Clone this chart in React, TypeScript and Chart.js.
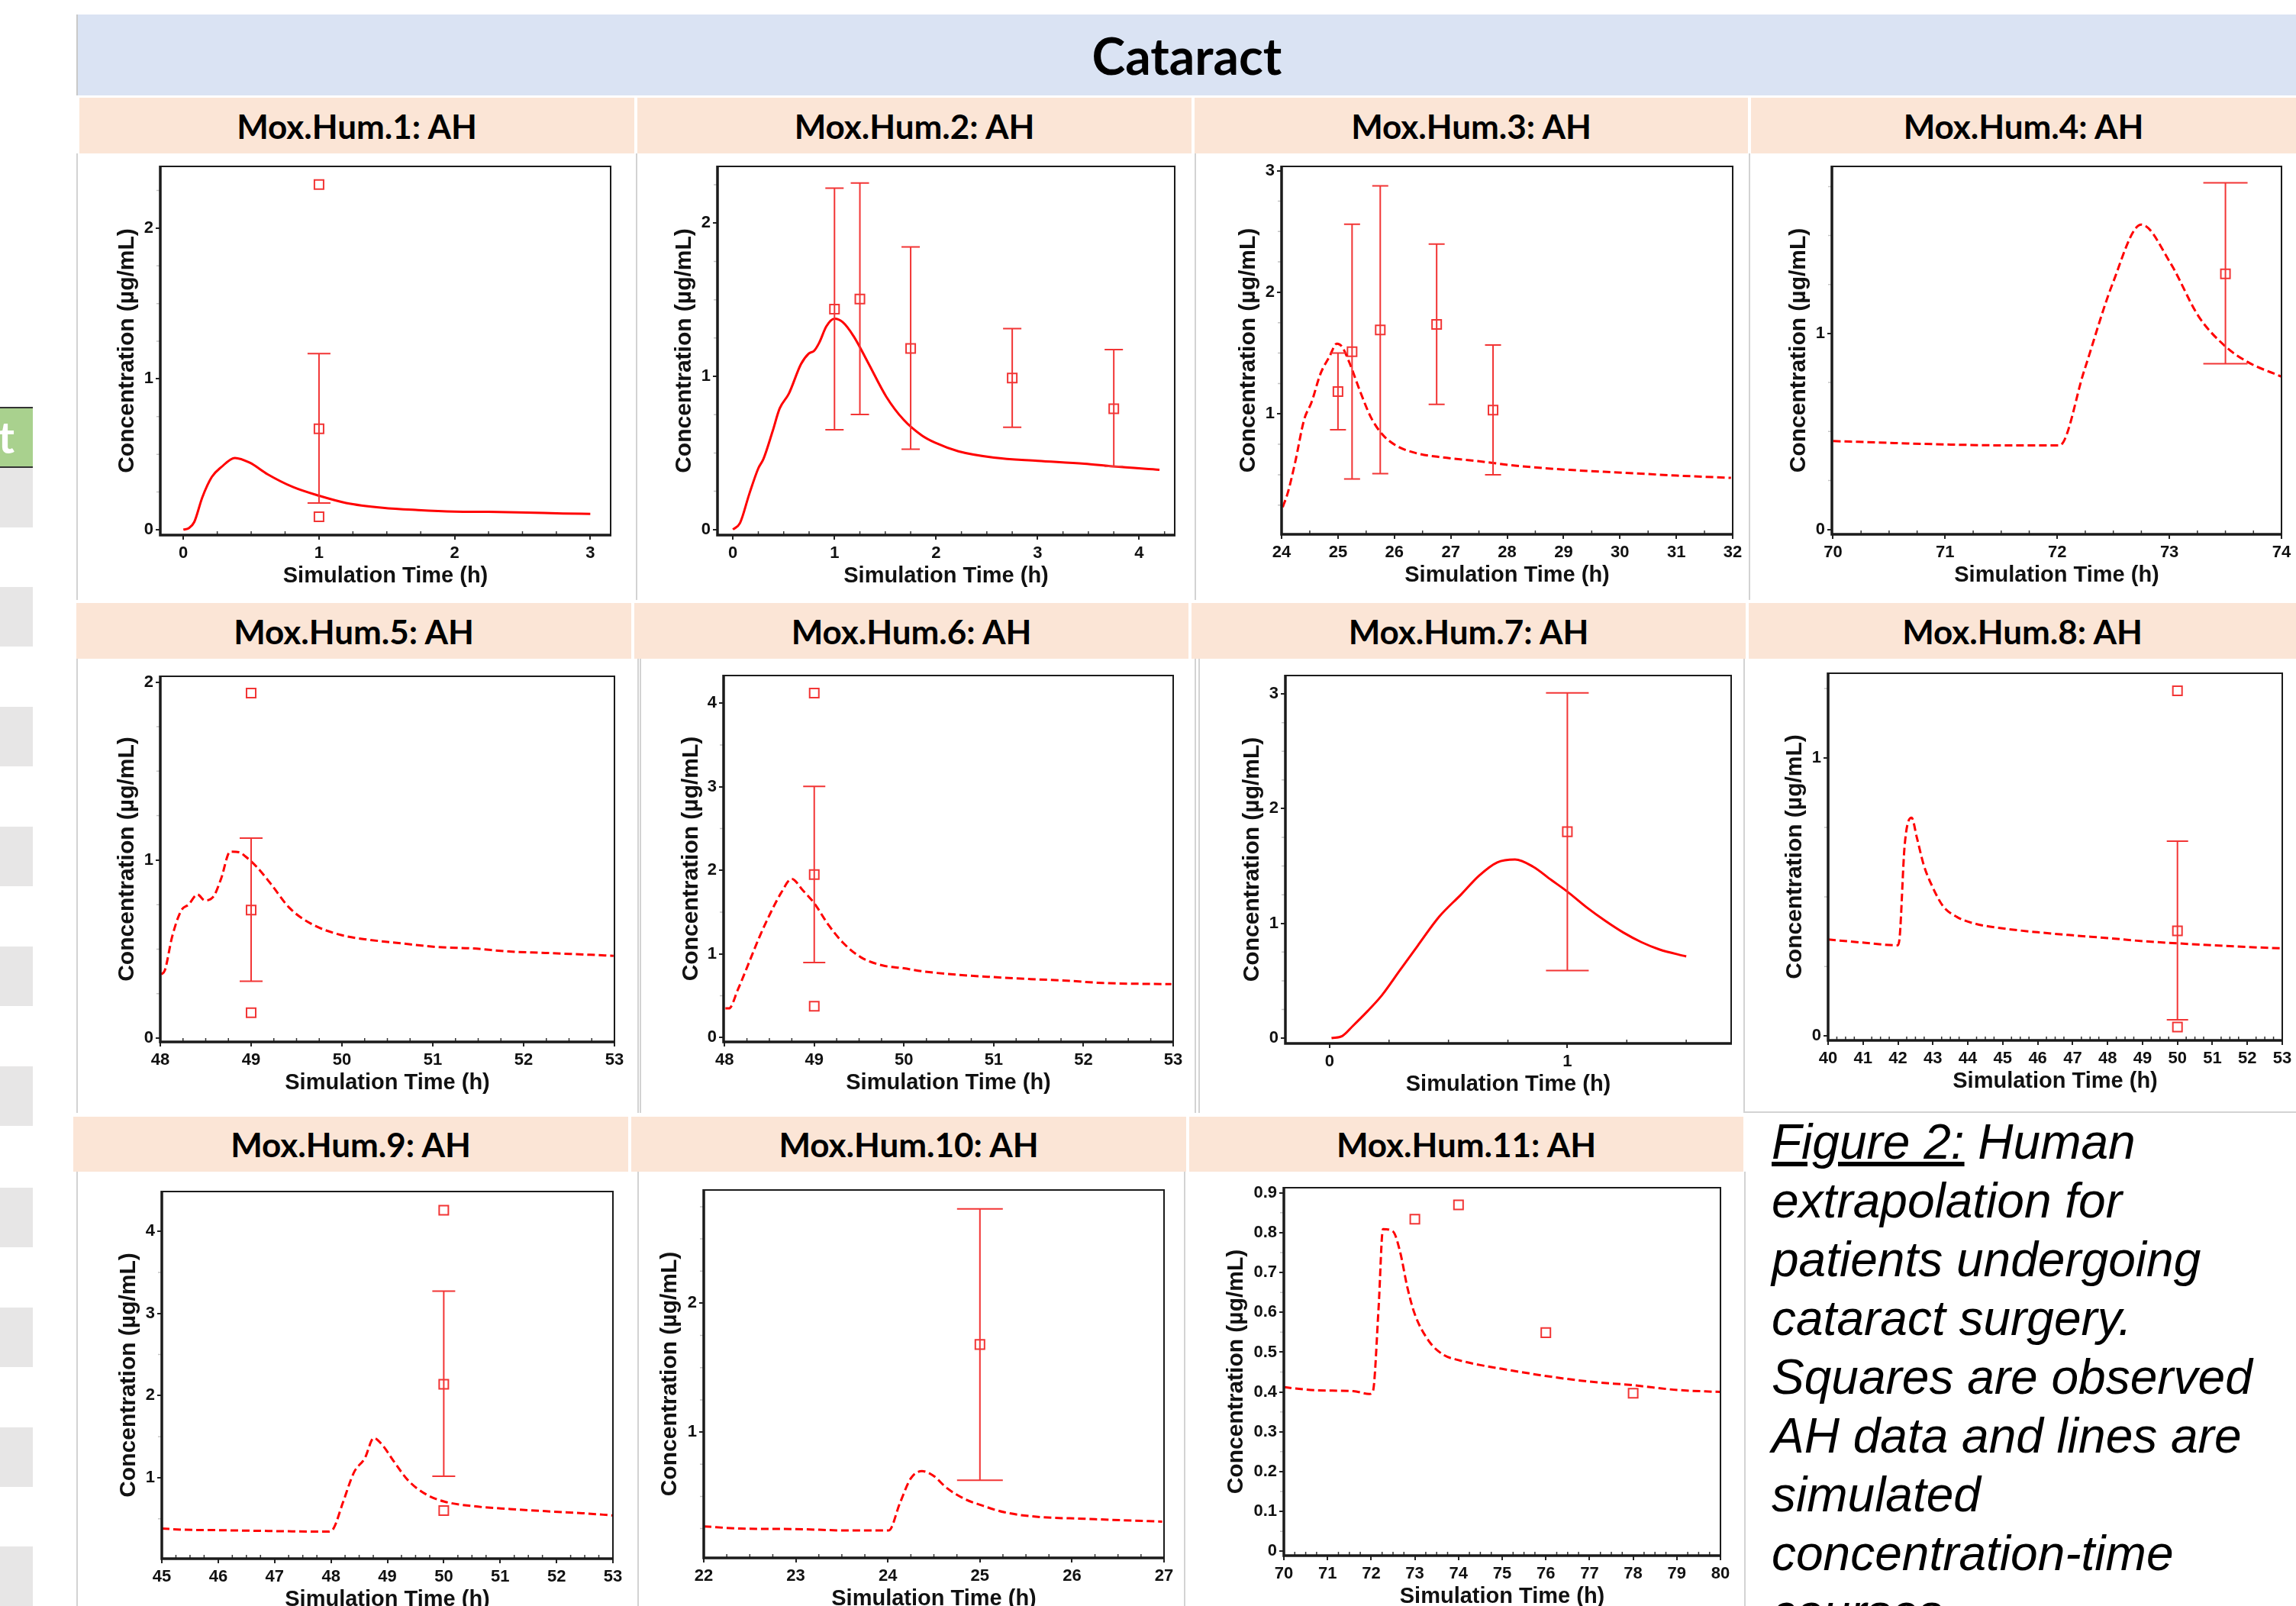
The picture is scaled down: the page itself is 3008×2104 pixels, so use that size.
import React, { useEffect, useRef } from "react";
import { Chart, registerables } from "chart.js";

Chart.register(...registerables);

// ---------------- data ----------------
// Mox.Hum.1
const simT1 = [0, 0.04, 0.08, 0.14, 0.21, 0.28, 0.38, 0.49, 0.62, 0.81, 1.0, 1.2, 1.47, 1.73, 2.0, 2.25, 2.53, 2.8, 3.0];
const simC1 = [0, 0.01, 0.05, 0.215, 0.35, 0.415, 0.476, 0.444, 0.368, 0.282, 0.225, 0.177, 0.145, 0.13, 0.12, 0.118, 0.114, 0.107, 0.105];
const obsT1 = [1, 1, 1];
const obsC1 = [2.29, 0.669, 0.086];
const barT1 = [1];
const barLo1 = [0.177];
const barHi1 = [1.168];
const xTicks1 = [0, 1, 2, 3];
const yTicks1 = [0, 1, 2];
const xRange1 = [-0.17, 3.15];
const yRange1 = [-0.036, 2.41];

// Mox.Hum.2
const simT2 = [0, 0.07, 0.16, 0.25, 0.3, 0.39, 0.46, 0.55, 0.67, 0.745, 0.8, 0.85, 0.92, 1.0, 1.08, 1.19, 1.33, 1.51, 1.68, 1.86, 1.99, 2.22, 2.57, 3.0, 3.46, 3.74, 4.2];
const simC2 = [0, 0.043, 0.23, 0.4, 0.46, 0.64, 0.79, 0.886, 1.08, 1.148, 1.167, 1.22, 1.326, 1.376, 1.354, 1.26, 1.09, 0.867, 0.717, 0.614, 0.567, 0.511, 0.47, 0.449, 0.43, 0.412, 0.39];
const obsT2 = [1, 1.25, 1.75, 2.75, 3.75];
const obsC2 = [1.438, 1.504, 1.182, 0.989, 0.788];
const barT2 = [1, 1.25, 1.75, 2.75, 3.75];
const barLo2 = [0.652, 0.751, 0.524, 0.667, 0.412];
const barHi2 = [2.228, 2.262, 1.845, 1.311, 1.174];
const xTicks2 = [0, 1, 2, 3, 4];
const yTicks2 = [0, 1, 2];
const xRange2 = [-0.152, 4.35];
const yRange2 = [-0.036, 2.37];

// Mox.Hum.3
const simT3 = [24.02, 24.11, 24.24, 24.4, 24.53, 24.69, 24.85, 24.98, 25.07, 25.2, 25.39, 25.58, 25.78, 26.03, 26.35, 26.86, 27.5, 28.14, 29.1, 30.05, 31.01, 31.97];
const simC3 = [0.233, 0.351, 0.6, 0.953, 1.094, 1.33, 1.472, 1.578, 1.554, 1.425, 1.189, 0.976, 0.835, 0.74, 0.682, 0.642, 0.611, 0.575, 0.54, 0.517, 0.493, 0.474];
const obsT3 = [25, 25.25, 25.75, 26.75, 27.75];
const obsC3 = [1.184, 1.512, 1.691, 1.736, 1.031];
const barT3 = [25, 25.25, 25.75, 26.75, 27.75];
const barLo3 = [0.87, 0.465, 0.509, 1.078, 0.5];
const barHi3 = [1.5, 2.559, 2.875, 2.396, 1.566];
const xTicks3 = [24, 25, 26, 27, 28, 29, 30, 31, 32];
const yTicks3 = [1, 2, 3];
const xRange3 = [24, 32];
const yRange3 = [0.01, 3.035];

// Mox.Hum.4
const simT4 = [70, 70.55, 71.05, 71.55, 72.02, 72.24, 72.49, 72.75, 73.01, 73.26, 73.5, 73.7, 74];
const simC4 = [0.451, 0.441, 0.433, 0.429, 0.429, 0.81, 1.249, 1.556, 1.359, 1.088, 0.934, 0.854, 0.78];
const obsT4 = [73.5];
const obsC4 = [1.305];
const barT4 = [73.5];
const barLo4 = [0.846];
const barHi4 = [1.769];
const xTicks4 = [70, 71, 72, 73, 74];
const yTicks4 = [0, 1];
const xRange4 = [69.99, 74];
const yRange4 = [-0.025, 1.853];

// Mox.Hum.5
const simT5 = [48.01, 48.05, 48.13, 48.23, 48.31, 48.41, 48.49, 48.59, 48.67, 48.77, 48.87, 48.94, 49.06, 49.22, 49.42, 49.66, 50.0, 50.25, 50.65, 51.05, 51.44, 51.84, 52.24, 52.99];
const simC5 = [0.359, 0.381, 0.569, 0.717, 0.75, 0.807, 0.774, 0.799, 0.897, 1.048, 1.045, 1.02, 0.963, 0.865, 0.733, 0.643, 0.578, 0.556, 0.533, 0.512, 0.504, 0.487, 0.479, 0.463];
const obsT5 = [49, 49, 49];
const obsC5 = [1.939, 0.72, 0.143];
const barT5 = [49];
const barLo5 = [0.32];
const barHi5 = [1.124];
const xTicks5 = [48, 49, 50, 51, 52, 53];
const yTicks5 = [0, 1, 2];
const xRange5 = [48, 53];
const yRange5 = [-0.021, 2.033];

// Mox.Hum.6
const simT6 = [48.01, 48.05, 48.15, 48.27, 48.39, 48.51, 48.63, 48.75, 48.87, 49.0, 49.16, 49.32, 49.52, 49.76, 50.0, 50.2, 50.6, 51.0, 51.41, 51.81, 52.21, 52.98];
const simC6 = [0.349, 0.349, 0.576, 0.89, 1.205, 1.484, 1.729, 1.897, 1.764, 1.607, 1.345, 1.135, 0.96, 0.863, 0.828, 0.793, 0.751, 0.723, 0.699, 0.681, 0.653, 0.639];
const obsT6 = [49, 49, 49];
const obsC6 = [4.121, 1.949, 0.374];
const barT6 = [49];
const barLo6 = [0.898];
const barHi6 = [3.004];
const xTicks6 = [48, 49, 50, 51, 52, 53];
const yTicks6 = [0, 1, 2, 3, 4];
const xRange6 = [47.99, 53];
const yRange6 = [-0.052, 4.33];

// Mox.Hum.7
const simT7 = [0.008, 0.053, 0.098, 0.159, 0.22, 0.295, 0.371, 0.462, 0.553, 0.629, 0.705, 0.78, 0.856, 0.932, 1.0, 1.083, 1.159, 1.235, 1.311, 1.386, 1.5];
const simC7 = [0, 0.018, 0.107, 0.234, 0.374, 0.59, 0.807, 1.061, 1.252, 1.417, 1.532, 1.557, 1.494, 1.379, 1.277, 1.137, 1.023, 0.921, 0.837, 0.774, 0.712];
const obsT7 = [1];
const obsC7 = [1.799];
const barT7 = [1];
const barLo7 = [0.59];
const barHi7 = [3.008];
const xTicks7 = [0, 1];
const yTicks7 = [0, 1, 2, 3];
const xRange7 = [-0.186, 1.689];
const yRange7 = [-0.046, 3.16];

// Mox.Hum.8
const simT8 = [40, 40.98, 41.99, 42.05, 42.19, 42.39, 42.54, 42.74, 42.99, 43.29, 43.69, 44.2, 45.0, 46.0, 47.0, 48.01, 49.02, 50.02, 51.02, 52.03, 52.98];
const simC8 = [0.347, 0.336, 0.326, 0.357, 0.683, 0.785, 0.714, 0.614, 0.536, 0.467, 0.428, 0.404, 0.387, 0.373, 0.362, 0.352, 0.341, 0.333, 0.326, 0.32, 0.315];
const obsT8 = [50, 50, 50];
const obsC8 = [1.242, 0.378, 0.032];
const barT8 = [50];
const barLo8 = [0.058];
const barHi8 = [0.701];
const xTicks8 = [40, 41, 42, 43, 44, 45, 46, 47, 48, 49, 50, 51, 52, 53];
const yTicks8 = [0, 1];
const xRange8 = [40, 53];
const yRange8 = [-0.016, 1.305];

// Mox.Hum.9
const simT9 = [45, 45.39, 46.03, 46.67, 47.31, 47.96, 48.05, 48.21, 48.41, 48.6, 48.76, 48.92, 49.11, 49.37, 49.69, 50.0, 50.53, 51.17, 51.81, 52.46, 53.0];
const simC9 = [0.381, 0.367, 0.361, 0.354, 0.347, 0.344, 0.388, 0.694, 1.068, 1.238, 1.483, 1.391, 1.204, 0.966, 0.796, 0.711, 0.653, 0.619, 0.592, 0.568, 0.541];
const obsT9 = [50, 50, 50];
const obsC9 = [4.259, 2.139, 0.599];
const barT9 = [50];
const barLo9 = [1.017];
const barHi9 = [3.272];
const xTicks9 = [45, 46, 47, 48, 49, 50, 51, 52, 53];
const yTicks9 = [1, 2, 3, 4];
const xRange9 = [45, 53];
const yRange9 = [0.014, 4.486];

// Mox.Hum.10
const simT10 = [22, 22.4, 22.99, 23.58, 24.01, 24.13, 24.25, 24.37, 24.49, 24.64, 24.84, 25.0, 25.27, 25.63, 26.14, 26.53, 26.98];
const simC10 = [0.267, 0.25, 0.246, 0.235, 0.235, 0.446, 0.641, 0.696, 0.663, 0.565, 0.478, 0.435, 0.376, 0.341, 0.326, 0.315, 0.304];
const obsT10 = [25];
const obsC10 = [1.68];
const barT10 = [25];
const barLo10 = [0.626];
const barHi10 = [2.733];
const xTicks10 = [22, 23, 24, 25, 26, 27];
const yTicks10 = [1, 2];
const xRange10 = [22, 27];
const yRange10 = [0.022, 2.88];

// Mox.Hum.11
const simT11 = [70, 70.76, 71.59, 71.96, 72.04, 72.17, 72.27, 72.5, 72.66, 72.83, 72.99, 73.32, 73.66, 74.0, 74.48, 75.0, 76.01, 77.0, 78.0, 79.01, 80.0];
const simC11 = [0.412, 0.404, 0.402, 0.395, 0.402, 0.612, 0.809, 0.803, 0.753, 0.662, 0.598, 0.528, 0.493, 0.48, 0.468, 0.458, 0.44, 0.426, 0.417, 0.405, 0.4];
const obsT11 = [73, 74, 76, 78];
const obsC11 = [0.834, 0.87, 0.549, 0.397];
const barT11: number[] = [];
const barLo11: number[] = [];
const barHi11: number[] = [];
const xTicks11 = [70, 71, 72, 73, 74, 75, 76, 77, 78, 79, 80];
const yTicks11 = [0, 0.1, 0.2, 0.3, 0.4, 0.5, 0.6, 0.7, 0.8, 0.9];
const xRange11 = [70, 80];
const yRange11 = [-0.011, 0.913];

const panelTitles = [
  "Mox.Hum.1: AH", "Mox.Hum.2: AH", "Mox.Hum.3: AH", "Mox.Hum.4: AH",
  "Mox.Hum.5: AH", "Mox.Hum.6: AH", "Mox.Hum.7: AH", "Mox.Hum.8: AH",
  "Mox.Hum.9: AH", "Mox.Hum.10: AH", "Mox.Hum.11: AH",
];

const captionLines = [
  "extrapolation for",
  "patients undergoing",
  "cataract surgery.",
  "Squares are observed",
  "AH data and lines are",
  "simulated",
  "concentration-time",
  "courses.",
];

// ---------------- styles / layout ----------------
const LINE_RED = "#ff0000";
const OBS_RED = "#f23535";
const AX_FONT = "'Liberation Sans', Arial, Helvetica, sans-serif";
const HDR_FONT = "Lato, 'Open Sans', 'Liberation Sans', sans-serif";
const AW = 90; // y-axis box width
const AH = 80; // x-axis box height
const PT = 20;
const PR = 30;

type PanelCfg = {
  title: string;
  simT: number[]; simC: number[];
  obsT: number[]; obsC: number[];
  barT: number[]; barLo: number[]; barHi: number[];
  xTicks: number[]; yTicks: number[];
  xRange: number[]; yRange: number[];
  dashed: boolean;
  frame: number[];
  hdr: number[];
  cap: number;
  yTitleOff: number;
  xMinor: number;
  yMinor: number;
};

const panels: PanelCfg[] = [
  { title: panelTitles[0], simT: simT1, simC: simC1, obsT: obsT1, obsC: obsC1, barT: barT1, barLo: barLo1, barHi: barHi1, xTicks: xTicks1, yTicks: yTicks1, xRange: xRange1, yRange: yRange1, dashed: false, frame: [210, 218, 800, 701], hdr: [104, 831, 128, 201], cap: 15, yTitleOff: 43, xMinor: 0.25, yMinor: 0.25 },
  { title: panelTitles[1], simT: simT2, simC: simC2, obsT: obsT2, obsC: obsC2, barT: barT2, barLo: barLo2, barHi: barHi2, xTicks: xTicks2, yTicks: yTicks2, xRange: xRange2, yRange: yRange2, dashed: false, frame: [940, 218, 1539, 701], hdr: [835, 1561, 128, 201], cap: 12, yTitleOff: 43, xMinor: 0.25, yMinor: 0.25 },
  { title: panelTitles[2], simT: simT3, simC: simC3, obsT: obsT3, obsC: obsC3, barT: barT3, barLo: barLo3, barHi: barHi3, xTicks: xTicks3, yTicks: yTicks3, xRange: xRange3, yRange: yRange3, dashed: true, frame: [1679, 218, 2270, 700], hdr: [1565, 2290, 128, 201], cap: 10.5, yTitleOff: 43, xMinor: 0.5, yMinor: 0.25 },
  { title: panelTitles[3], simT: simT4, simC: simC4, obsT: obsT4, obsC: obsC4, barT: barT4, barLo: barLo4, barHi: barHi4, xTicks: xTicks4, yTicks: yTicks4, xRange: xRange4, yRange: yRange4, dashed: true, frame: [2400, 218, 2989, 700], hdr: [2294, 3008, 128, 201], cap: 29, yTitleOff: 43, xMinor: 0.25, yMinor: 0.25 },
  { title: panelTitles[4], simT: simT5, simC: simC5, obsT: obsT5, obsC: obsC5, barT: barT5, barLo: barLo5, barHi: barHi5, xTicks: xTicks5, yTicks: yTicks5, xRange: xRange5, yRange: yRange5, dashed: true, frame: [210, 886, 805, 1365], hdr: [100, 827, 790, 863], cap: 15, yTitleOff: 43, xMinor: 0.25, yMinor: 0.25 },
  { title: panelTitles[5], simT: simT6, simC: simC6, obsT: obsT6, obsC: obsC6, barT: barT6, barLo: barLo6, barHi: barHi6, xTicks: xTicks6, yTicks: yTicks6, xRange: xRange6, yRange: yRange6, dashed: true, frame: [948, 885, 1537, 1365], hdr: [831, 1557, 790, 863], cap: 14.5, yTitleOff: 42, xMinor: 0.25, yMinor: 0.5 },
  { title: panelTitles[6], simT: simT7, simC: simC7, obsT: obsT7, obsC: obsC7, barT: barT7, barLo: barLo7, barHi: barHi7, xTicks: xTicks7, yTicks: yTicks7, xRange: xRange7, yRange: yRange7, dashed: false, frame: [1684, 885, 2268, 1367], hdr: [1561, 2287, 790, 863], cap: 28, yTitleOff: 43, xMinor: 0.25, yMinor: 0.25 },
  { title: panelTitles[7], simT: simT8, simC: simC8, obsT: obsT8, obsC: obsC8, barT: barT8, barLo: barLo8, barHi: barHi8, xTicks: xTicks8, yTicks: yTicks8, xRange: xRange8, yRange: yRange8, dashed: true, frame: [2395, 882, 2990, 1363], hdr: [2291, 3008, 790, 863], cap: 14, yTitleOff: 43, xMinor: 0.25, yMinor: 0.25 },
  { title: panelTitles[8], simT: simT9, simC: simC9, obsT: obsT9, obsC: obsC9, barT: barT9, barLo: barLo9, barHi: barHi9, xTicks: xTicks9, yTicks: yTicks9, xRange: xRange9, yRange: yRange9, dashed: true, frame: [212, 1561, 803, 2042], hdr: [96, 823, 1463, 1535], cap: 15, yTitleOff: 43, xMinor: 0.25, yMinor: 0.5 },
  { title: panelTitles[9], simT: simT10, simC: simC10, obsT: obsT10, obsC: obsC10, barT: barT10, barLo: barLo10, barHi: barHi10, xTicks: xTicks10, yTicks: yTicks10, xRange: xRange10, yRange: yRange10, dashed: true, frame: [922, 1559, 1525, 2041], hdr: [827, 1554, 1463, 1535], cap: 30, yTitleOff: 44, xMinor: 0.25, yMinor: 0.25 },
  { title: panelTitles[10], simT: simT11, simC: simC11, obsT: obsT11, obsC: obsC11, barT: barT11, barLo: barLo11, barHi: barHi11, xTicks: xTicks11, yTicks: yTicks11, xRange: xRange11, yRange: yRange11, dashed: true, frame: [1682, 1556, 2254, 2038], hdr: [1558, 2284, 1463, 1535], cap: 0, yTitleOff: 62, xMinor: 0.25, yMinor: 0.05 },
];

const vLines = [
  [101, 201, 786], [834, 201, 786], [1566, 201, 786], [2292, 201, 786],
  [101, 863, 1458], [836, 863, 1458], [839, 863, 1458], [1566, 863, 1458], [1571, 863, 1458], [2285, 863, 1458],
  [101, 1535, 2104], [836, 1535, 2104], [1552, 1535, 2104], [2286, 1535, 2104],
];
const stripGrayTops = [613, 769, 926, 1083, 1240, 1397, 1556, 1713, 1870, 2026];

function makeDecor(p: PanelCfg) {
  return {
    id: "decor",
    afterDatasetsDraw(chart: any) {
      const { ctx, scales } = chart;
      const xs = scales.x;
      const ys = scales.y;
      ctx.save();
      ctx.strokeStyle = OBS_RED;
      ctx.lineWidth = 2;
      p.barT.forEach((t, i) => {
        const px = xs.getPixelForValue(t);
        const y1 = ys.getPixelForValue(p.barLo[i]);
        const y2 = ys.getPixelForValue(p.barHi[i]);
        ctx.beginPath();
        ctx.moveTo(px, y1);
        ctx.lineTo(px, y2);
        ctx.moveTo(px - p.cap, y1);
        ctx.lineTo(px + p.cap, y1);
        ctx.moveTo(px - p.cap, y2);
        ctx.lineTo(px + p.cap, y2);
        ctx.stroke();
      });
      ctx.restore();
    },
    afterDraw(chart: any) {
      const { ctx, chartArea: a, scales } = chart;
      const xs = scales.x;
      const ys = scales.y;
      ctx.save();
      ctx.strokeStyle = "#333";
      ctx.lineWidth = 1.5;
      const k0 = Math.ceil(p.xRange[0] / p.xMinor - 1e-6);
      const k1 = Math.floor(p.xRange[1] / p.xMinor + 1e-6);
      ctx.beginPath();
      for (let k = k0; k <= k1; k++) {
        const v = k * p.xMinor;
        if (p.xTicks.some((t) => Math.abs(t - v) < 1e-6)) continue;
        const px = xs.getPixelForValue(v);
        ctx.moveTo(px, a.bottom);
        ctx.lineTo(px, a.bottom - 5);
      }
      ctx.stroke();
      ctx.strokeStyle = "#c4c4c4";
      ctx.lineWidth = 1.5;
      const j0 = Math.ceil(p.yRange[0] / p.yMinor - 1e-6);
      const j1 = Math.floor(p.yRange[1] / p.yMinor + 1e-6);
      ctx.beginPath();
      for (let j = j0; j <= j1; j++) {
        const v = j * p.yMinor;
        if (p.yTicks.some((t) => Math.abs(t - v) < 1e-6)) continue;
        const py = ys.getPixelForValue(v);
        ctx.moveTo(a.left - 1, py);
        ctx.lineTo(a.left - 5, py);
      }
      ctx.stroke();
      ctx.strokeStyle = "#1b1b1b";
      ctx.lineWidth = 2;
      ctx.beginPath();
      ctx.moveTo(a.left, a.top);
      ctx.lineTo(a.right, a.top);
      ctx.lineTo(a.right, a.bottom);
      ctx.stroke();
      ctx.lineWidth = 3.5;
      ctx.beginPath();
      ctx.moveTo(a.left, a.top - 1);
      ctx.lineTo(a.left, a.bottom);
      ctx.lineTo(a.right + 1, a.bottom);
      ctx.stroke();
      ctx.restore();
    },
  };
}

function ChartPanel({ p }: { p: PanelCfg }) {
  const ref = useRef<HTMLCanvasElement | null>(null);
  const [L, T, R, B] = p.frame;
  const width = R - L + AW + PR;
  const height = B - T + PT + AH;

  useEffect(() => {
    if (!ref.current) return;
    const tickFont = { family: AX_FONT, size: 22, weight: "bold" as const };
    const chart = new Chart(ref.current, {
      type: "scatter",
      data: {
        datasets: [
          {
            type: "line",
            data: p.simT.map((t, i) => ({ x: t, y: p.simC[i] })),
            borderColor: LINE_RED,
            borderWidth: 3,
            borderDash: p.dashed ? [10, 5] : [],
            pointRadius: 0,
            fill: false,
            showLine: true,
            cubicInterpolationMode: "monotone",
          } as any,
          {
            type: "scatter",
            data: p.obsT.map((t, i) => ({ x: t, y: p.obsC[i] })),
            pointStyle: "rect",
            pointRadius: 8.5,
            borderColor: OBS_RED,
            borderWidth: 2,
            backgroundColor: "rgba(255,255,255,0)",
            showLine: false,
          } as any,
        ],
      },
      options: {
        animation: false,
        responsive: false,
        devicePixelRatio: 1,
        events: [],
        layout: { padding: { left: 0, top: PT, right: PR, bottom: 0 } },
        plugins: { legend: { display: false }, tooltip: { enabled: false } },
        scales: {
          x: {
            type: "linear",
            min: p.xRange[0],
            max: p.xRange[1],
            afterBuildTicks: (s: any) => {
              s.ticks = p.xTicks.map((v) => ({ value: v }));
            },
            afterFit: (s: any) => {
              s.height = AH;
            },
            ticks: {
              autoSkip: false,
              maxRotation: 0,
              minRotation: 0,
              padding: 5,
              color: "#111",
              font: tickFont,
              callback: (v: any) => String(v),
            },
            grid: { drawOnChartArea: false, drawTicks: true, tickLength: 6, color: "#222", lineWidth: 2 },
            border: { display: false },
            title: {
              display: true,
              text: "Simulation Time (h)",
              color: "#111",
              font: { family: AX_FONT, size: 29, weight: "bold" },
              padding: { top: 0, bottom: 8.6 },
            },
          },
          y: {
            type: "linear",
            min: p.yRange[0],
            max: p.yRange[1],
            afterBuildTicks: (s: any) => {
              s.ticks = p.yTicks.map((v) => ({ value: v }));
            },
            afterFit: (s: any) => {
              s.width = AW;
            },
            ticks: {
              autoSkip: false,
              padding: 3,
              color: "#111",
              font: tickFont,
              callback: (v: any) => String(v),
            },
            grid: { drawOnChartArea: false, drawTicks: true, tickLength: 6, color: "#222", lineWidth: 2 },
            border: { display: false },
            title: {
              display: true,
              text: "Concentration (µg/mL)",
              color: "#111",
              font: { family: AX_FONT, size: 30, weight: "bold" },
              padding: { top: AW - 18 - p.yTitleOff, bottom: 0 },
            },
          },
        },
      } as any,
      plugins: [makeDecor(p) as any],
    });
    return () => chart.destroy();
  }, [p]);

  return (
    <canvas
      ref={ref}
      width={width}
      height={height}
      style={{ position: "absolute", left: L - AW, top: T - PT, width, height }}
    />
  );
}

export default function App() {
  return (
    <div
      style={{
        position: "fixed",
        left: 0,
        top: 0,
        width: 3008,
        height: 2104,
        overflow: "hidden",
        background: "#ffffff",
      }}
    >
      <div
        style={{
          position: "absolute",
          left: 0,
          top: 533,
          width: 43,
          height: 80,
          boxSizing: "border-box",
          background: "#a9d18e",
          borderTop: "2px solid #333",
          borderBottom: "2px solid #333",
          overflow: "hidden",
        }}
      >
        <span
          style={{
            position: "absolute",
            right: 24,
            top: 4,
            color: "#ffffff",
            fontFamily: HDR_FONT,
            fontWeight: 700,
            fontSize: 58,
            lineHeight: "66px",
          }}
        >
          t
        </span>
      </div>
      {stripGrayTops.map((t, i) => (
        <div key={"g" + i} style={{ position: "absolute", left: 0, top: t, width: 43, height: 78, background: "#e7e6e6" }} />
      ))}

      <div
        style={{
          position: "absolute",
          left: 100,
          top: 19,
          width: 2908,
          height: 106,
          background: "#dae3f3",
          borderLeft: "2px solid #c9c9c9",
          boxSizing: "border-box",
          display: "flex",
          alignItems: "center",
          justifyContent: "center",
          fontFamily: HDR_FONT,
          fontWeight: 700,
          fontSize: 66,
          color: "#000",
        }}
      >
        Cataract
      </div>

      {vLines.map((l, i) => (
        <div key={"v" + i} style={{ position: "absolute", left: l[0] - 1, top: l[1], width: 2, height: l[2] - l[1], background: "#d3d3d3" }} />
      ))}
      <div style={{ position: "absolute", left: 2285, top: 1456, width: 723, height: 2, background: "#d3d3d3" }} />

      {panels.map((p, i) => (
        <div
          key={"h" + i}
          style={{
            position: "absolute",
            left: p.hdr[0],
            top: p.hdr[2],
            width: p.hdr[1] - p.hdr[0],
            height: p.hdr[3] - p.hdr[2],
            background: "#fbe5d6",
            display: "flex",
            alignItems: "center",
            justifyContent: "center",
            fontFamily: HDR_FONT,
            fontWeight: 700,
            fontSize: 44,
            color: "#000",
          }}
        >
          {p.title}
        </div>
      ))}

      {panels.map((p, i) => (
        <ChartPanel key={"c" + i} p={p} />
      ))}

      <div
        style={{
          position: "absolute",
          left: 2321,
          top: 1458,
          fontFamily: "'Liberation Sans', Arial, sans-serif",
          fontStyle: "italic",
          fontSize: 64,
          lineHeight: "77px",
          whiteSpace: "nowrap",
          color: "#000",
        }}
      >
        <div>
          <span style={{ textDecoration: "underline" }}>Figure 2:</span> Human
        </div>
        {captionLines.map((s, i) => (
          <div key={"cap" + i}>{s}</div>
        ))}
      </div>
    </div>
  );
}
